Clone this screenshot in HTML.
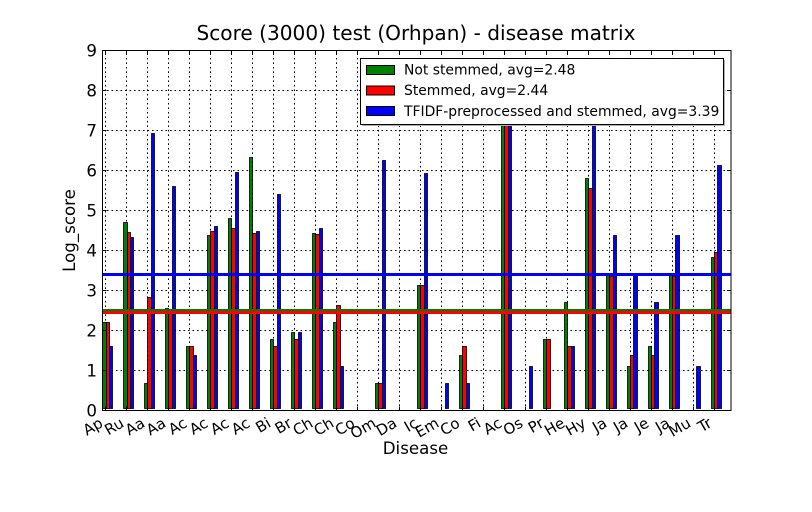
<!DOCTYPE html>
<html>
<head>
<meta charset="utf-8">
<title>Score (3000) test (Orhpan) - disease matrix</title>
<style>
html,body{margin:0;padding:0;background:#fff;}
svg{display:block;font-family:"DejaVu Sans","Liberation Sans",sans-serif;}
</style>
</head>
<body>
<svg id="chart" width="812" height="512" viewBox="0 0 812 512" xmlns="http://www.w3.org/2000/svg">
  <defs><clipPath id="plot-clip"><rect x="102.5" y="50.5" width="628.5" height="360"></rect></clipPath></defs>
  <rect x="0" y="0" width="812" height="512" fill="#fff"></rect>
  <text x="416" y="40" font-size="20.1" text-anchor="middle" fill="#000">Score (3000) test (Orhpan) - disease matrix</text>
  <g id="grid"></g>
  <g id="bars" clip-path="url(#plot-clip)"></g>
  <g id="avg-lines" clip-path="url(#plot-clip)"></g>
  <g id="ticks"></g>
  <rect x="102.5" y="50.5" width="628.5" height="360" fill="none" stroke="#000" stroke-width="1"></rect>
  <text x="415.5" y="454" font-size="16.67" text-anchor="middle" fill="#000">Disease</text>
  <text transform="translate(75 230.5) rotate(-90)" font-size="16.67" text-anchor="middle" fill="#000">Log_score</text>
  <g>
    <rect x="362" y="60" width="363" height="66" fill="#b0b0b0"></rect>
    <rect x="360.5" y="58.5" width="363" height="66" fill="#fff" stroke="#000" stroke-width="1"></rect>
    <rect x="366.5" y="65.5" width="28" height="9" fill="#008000" stroke="#000"></rect>
    <text x="404" y="74.5" font-size="13.9" fill="#000">Not stemmed, avg=2.48</text>
    <rect x="366.5" y="86" width="28" height="9" fill="#ff0000" stroke="#000"></rect>
    <text x="404" y="95" font-size="13.9" fill="#000">Stemmed, avg=2.44</text>
    <rect x="366.5" y="106.5" width="28" height="9" fill="#0000ff" stroke="#000"></rect>
    <text x="404" y="116" font-size="13.9" fill="#000">TFIDF-preprocessed and stemmed, avg=3.39</text>
  </g>
</svg>
<script>
const categories = ["Ap","Ru","Aa","Aa","Ac","Ac","Ac","Ac","Bi","Br","Ch","Ch","Co","Om","Da","Ic","Em","Co","Fi","Ac","Os","Pr","He","Hy","Ja","Ja","Je","Ja","Mu","Tr"];
const notStemmed = [2.2,4.7,0.69,2.56,1.61,4.39,4.8,6.34,1.79,1.95,4.43,2.2,0,0.69,0,3.14,0,1.39,0,7.6,0,1.79,2.71,5.8,3.4,1.1,1.61,3.4,0,3.83];
const stemmed = [2.2,4.45,2.83,2.48,1.61,4.48,4.55,4.44,1.61,1.79,4.41,2.64,0,0.69,0,3.14,0,1.61,0,7.6,0,1.79,1.61,5.55,3.37,1.39,1.39,3.37,0,3.95];
const tfidf = [1.61,4.33,6.93,5.6,1.39,4.6,5.95,4.48,5.4,1.95,4.55,1.1,0,6.25,0,5.93,0.69,0.69,0,7.6,1.1,0,1.61,7.3,4.39,3.4,2.71,4.39,1.1,6.13];
const averages = [2.48,2.44,3.39];
const yTickLabels = [0,1,2,3,4,5,6,7,8,9];

const NS = 'http://www.w3.org/2000/svg';
const plot = {left:102.5, right:731, top:50.5, bottom:410.5};
function xScale(v){ return 105.3 + 20.98 * v; }
function yScale(v){ return 410.4 - 40 * v; }
function make(parent, tag, attrs){
  const el = document.createElementNS(NS, tag);
  for (const k in attrs) el.setAttribute(k, attrs[k]);
  parent.appendChild(el);
  return el;
}

const gridG = document.getElementById('grid');
const ticksG = document.getElementById('ticks');
const barsG = document.getElementById('bars');
const linesG = document.getElementById('avg-lines');

categories.forEach(function(label, i){
  const x = Math.round(xScale(i)) + 0.5;
  const g = make(gridG, 'line', {x1:x, x2:x, y1:plot.bottom, y2:plot.top, stroke:'#000', 'stroke-width':1, 'stroke-dasharray':'1.6 2.9'});
  
  
  const t1 = make(ticksG, 'line', {x1:x, x2:x, y1:plot.bottom, y2:plot.bottom-4, stroke:'#000', 'stroke-width':1});
  
  
  const t2 = make(ticksG, 'line', {x1:x, x2:x, y1:plot.top, y2:plot.top+4, stroke:'#000', 'stroke-width':1});
  
  
  const lx = x - 1.5;
  const tx = make(ticksG, 'text', {x:lx, y:426, 'font-size':15, 'text-anchor':'end', fill:'#000', transform:'rotate(-30 '+lx+' 426)'});
  tx.textContent = label;
  
  
});

yTickLabels.forEach(function(v){
  const y = Math.round(yScale(v)) + 0.5;
  if (v > 0 && v < 9) {
    const g = make(gridG, 'line', {x1:plot.left, x2:plot.right, y1:y, y2:y, stroke:'#000', 'stroke-width':1, 'stroke-dasharray':'1.6 2.9'});
    
    
  }
  const t1 = make(ticksG, 'line', {x1:plot.left, x2:plot.left+4, y1:y, y2:y, stroke:'#000', 'stroke-width':1});
  
  
  const t2 = make(ticksG, 'line', {x1:plot.right-4, x2:plot.right, y1:y, y2:y, stroke:'#000', 'stroke-width':1});
  
  
  const tx = make(ticksG, 'text', {x:97, y:yScale(v)+6, 'font-size':16.67, 'text-anchor':'end', fill:'#000'});
  tx.textContent = String(v);
  
  
});

const barColors = ['#008000','#ff0000','#0000ff'];
const barNames = ['bar-not-stemmed','bar-stemmed','bar-tfidf'];
const barWidth = 3.45 / 20.98;
const groupOffset = -3.22 / 20.98;
[notStemmed, stemmed, tfidf].forEach(function(series, s){
  series.forEach(function(v, i){
    if (v <= 0) return;
    const left = Math.round(xScale(i + groupOffset + s * barWidth)) + 0.5;
    const right = Math.round(xScale(i + groupOffset + (s + 1) * barWidth)) + 0.5;
    const top = Math.round(yScale(v)) + 0.5;
    const base = Math.round(yScale(0)) - 1.5;
    const r = make(barsG, 'rect', {x:left, y:top, width:right-left, height:base-top, fill:barColors[s], stroke:'#000', 'stroke-width':0.8});
    
    
  });
});

const lineNames = ['avg-line-not-stemmed','avg-line-stemmed','avg-line-tfidf'];
averages.forEach(function(v, s){
  const y = Math.floor(yScale(v) - 1.5) + 1.5;
  const l = make(linesG, 'line', {x1:plot.left, x2:plot.right, y1:y, y2:y, stroke:barColors[s], 'stroke-width':3});
  
  
});
</script>
</body>
</html>
